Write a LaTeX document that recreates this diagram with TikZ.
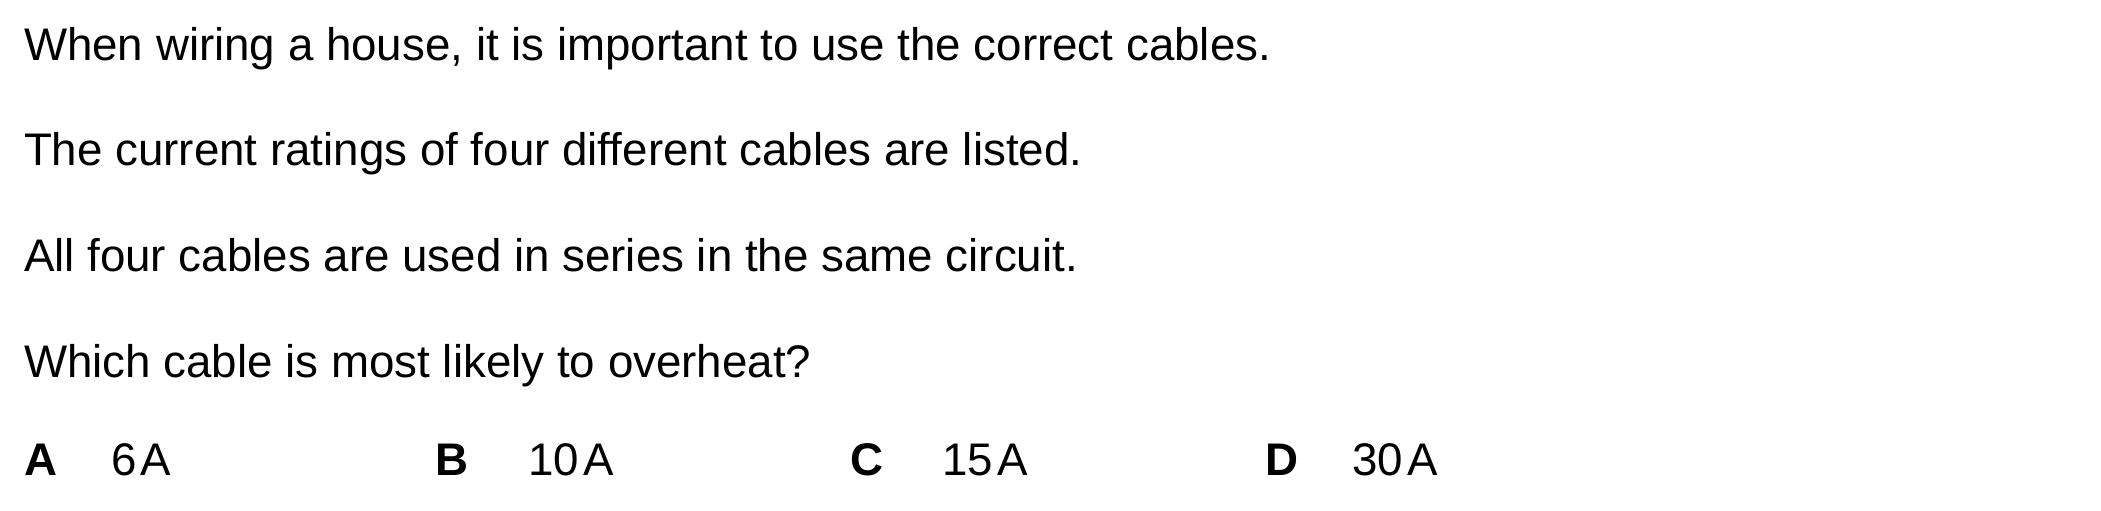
\documentclass[tikz,border=0pt]{standalone}
\usepackage{fontspec}
\setmainfont{Liberation Sans}
\begin{document}
\begin{tikzpicture}[x=1pt,y=1pt,
    qtext/.style={anchor=base west,inner sep=0pt,outer sep=0pt,font=\fontsize{45.7}{50}\selectfont},
    qletter/.style={qtext,font=\fontsize{45.7}{50}\selectfont\bfseries}]
    \useasboundingbox (0,0) rectangle (2101,-511);
    \node[qtext] (line1) at (24,-60) {When wiring a house, it is important to use the correct cables.};
    \node[qtext] (line2) at (24,-165) {The current ratings of four different cables are listed.};
    \node[qtext] (line3) at (24,-271) {All four cables are used in series in the same circuit.};
    \node[qtext] (line4) at (24,-377) {Which cable is most likely to overheat?};
    \node[qletter] (optA) at (24,-475) {A};
    \node[qtext] (valA) at (111,-475) {6\hspace{0.1em}A};
    \node[qletter] (optB) at (435,-475) {B};
    \node[qtext] (valB) at (528,-475) {10\hspace{0.1em}A};
    \node[qletter] (optC) at (850,-475) {C};
    \node[qtext] (valC) at (942,-475) {15\hspace{0.1em}A};
    \node[qletter] (optD) at (1265,-475) {D};
    \node[qtext] (valD) at (1352,-475) {30\hspace{0.1em}A};
\end{tikzpicture}
\end{document}
